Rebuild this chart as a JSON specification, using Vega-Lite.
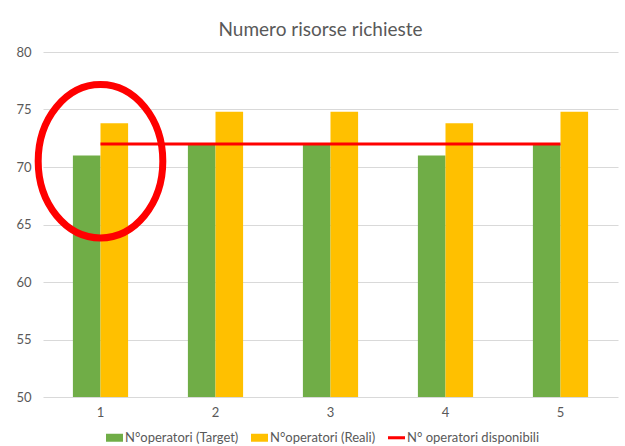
{
  "$schema": "https://vega.github.io/schema/vega-lite/v6.json",
  "width": 575,
  "height": 345,
  "autosize": {"type": "none"},
  "padding": {"left": 43, "top": 52, "right": 7, "bottom": 49},
  "background": "white",
  "title": {
    "text": "Numero risorse richieste",
    "font": "Lato",
    "fontSize": 19,
    "fontWeight": "normal",
    "color": "#595959",
    "anchor": "middle",
    "dx": -10,
    "offset": 6
  },
  "config": {
    "view": {"stroke": null},
    "font": "Lato",
    "axis": {"labelFont": "Lato", "labelFontSize": 13, "labelColor": "#595959", "gridColor": "#d9d9d9", "gridWidth": 1}
  },
  "datasets": {
    "operatori": [
      {"giorno": "1", "serie": "N°operatori (Target)", "valore": 71},
      {"giorno": "1", "serie": "N°operatori (Reali)", "valore": 73.8},
      {"giorno": "2", "serie": "N°operatori (Target)", "valore": 72},
      {"giorno": "2", "serie": "N°operatori (Reali)", "valore": 74.8},
      {"giorno": "3", "serie": "N°operatori (Target)", "valore": 72},
      {"giorno": "3", "serie": "N°operatori (Reali)", "valore": 74.8},
      {"giorno": "4", "serie": "N°operatori (Target)", "valore": 71},
      {"giorno": "4", "serie": "N°operatori (Reali)", "valore": 73.8},
      {"giorno": "5", "serie": "N°operatori (Target)", "valore": 72},
      {"giorno": "5", "serie": "N°operatori (Reali)", "valore": 74.8}
    ],
    "disponibili": [
      {"giorno": "1", "serie": "N° operatori disponibili", "valore": 72},
      {"giorno": "2", "serie": "N° operatori disponibili", "valore": 72},
      {"giorno": "3", "serie": "N° operatori disponibili", "valore": 72},
      {"giorno": "4", "serie": "N° operatori disponibili", "valore": 72},
      {"giorno": "5", "serie": "N° operatori disponibili", "valore": 72}
    ],
    "evidenza": [
      {"giorno": "1", "valore": 70.5}
    ]
  },
  "layer": [
    {
      "data": {"name": "operatori"},
      "mark": {"type": "bar", "clip": true},
      "encoding": {
        "x": {
          "field": "giorno", "type": "nominal",
          "scale": {"paddingInner": 0.52, "paddingOuter": 0.26},
          "axis": {"title": null, "labelAngle": 0, "ticks": false, "domain": false, "labelPadding": 9, "grid": false}
        },
        "xOffset": {"field": "serie", "type": "nominal", "sort": ["N°operatori (Target)", "N°operatori (Reali)"], "scale": {"paddingInner": 0, "paddingOuter": 0}},
        "y": {
          "field": "valore", "type": "quantitative",
          "scale": {"domain": [50, 80], "nice": false, "zero": false},
          "axis": {"title": null, "values": [50, 55, 60, 65, 70, 75, 80], "ticks": false, "domain": false, "labelPadding": 12}
        },
        "color": {
          "field": "serie", "type": "nominal",
          "scale": {
            "domain": ["N°operatori (Target)", "N°operatori (Reali)", "N° operatori disponibili"],
            "range": ["#70AD47", "#FFC000", "#FF0000"]
          },
          "legend": {
            "title": null,
            "orient": "none",
            "legendX": 63,
            "legendY": 377,
            "direction": "horizontal",
            "labelFont": "Lato",
            "labelFontSize": 13,
            "labelColor": "#595959",
            "labelOffset": 2,
            "columnPadding": 12,
            "symbolSize": 289,
            "symbolStrokeWidth": 0,
            "encode": {
              "symbols": {
                "update": {
                  "shape": {"signal": "datum.value === 'N° operatori disponibili' ? 'M-1,-0.18H1V0.18H-1Z' : 'M-1,-0.47H1V0.47H-1Z'"}
                }
              }
            }
          }
        }
      }
    },
    {
      "data": {"name": "disponibili"},
      "mark": {"type": "line", "strokeWidth": 3},
      "encoding": {
        "x": {"field": "giorno", "type": "nominal"},
        "y": {"field": "valore", "type": "quantitative"},
        "color": {"field": "serie", "type": "nominal"}
      }
    },
    {
      "data": {"name": "evidenza"},
      "mark": {
        "type": "point",
        "filled": false,
        "stroke": "#FF0000",
        "strokeWidth": 7,
        "opacity": 1,
        "size": 23500,
        "shape": "M0,-1C0.449,-1 0.813,-0.552 0.813,0C0.813,0.552 0.449,1 0,1C-0.449,1 -0.813,0.552 -0.813,0C-0.813,-0.552 -0.449,-1 0,-1Z"
      },
      "encoding": {
        "x": {"field": "giorno", "type": "nominal"},
        "y": {"field": "valore", "type": "quantitative"}
      }
    }
  ]
}
